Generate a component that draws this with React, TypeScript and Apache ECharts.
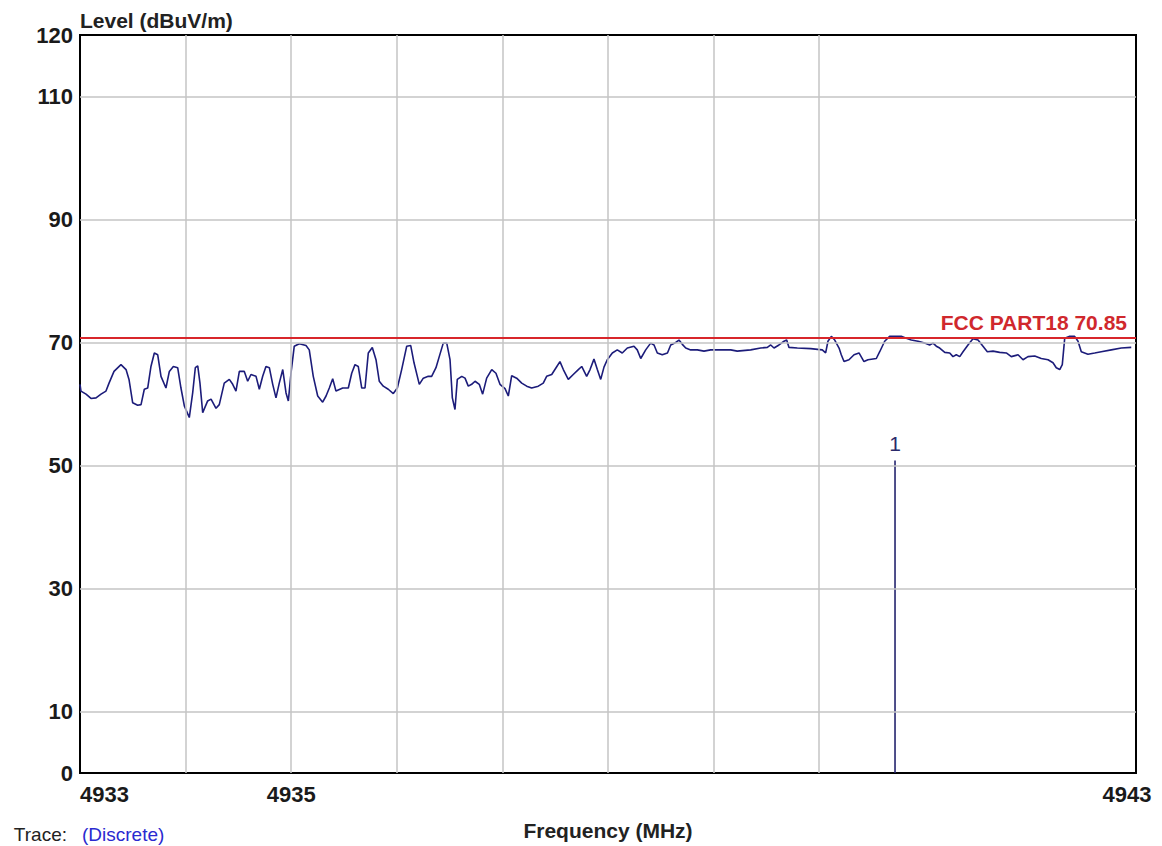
import React, { useEffect, useRef } from "react";
import * as echarts from "echarts";

// ---- data ----
const traceFreq = [
  4933.0, 4933.009, 4933.057, 4933.104, 4933.152, 4933.199, 4933.246, 4933.275, 4933.322, 4933.388,
  4933.436, 4933.464, 4933.499, 4933.546, 4933.578, 4933.609, 4933.641, 4933.672, 4933.704, 4933.736,
  4933.767, 4933.814, 4933.846, 4933.884, 4933.925, 4933.956, 4933.988, 4934.035, 4934.067, 4934.092,
  4934.115, 4934.136, 4934.162, 4934.209, 4934.241, 4934.288, 4934.319, 4934.366, 4934.414, 4934.446,
  4934.477, 4934.509, 4934.556, 4934.588, 4934.619, 4934.667, 4934.698, 4934.73, 4934.761, 4934.793,
  4934.825, 4934.856, 4934.887, 4934.92, 4934.951, 4934.973, 4934.998, 4935.029, 4935.077, 4935.14,
  4935.171, 4935.209, 4935.251, 4935.298, 4935.33, 4935.361, 4935.393, 4935.424, 4935.488,
  4935.541, 4935.573, 4935.604, 4935.635, 4935.668, 4935.699, 4935.73, 4935.768, 4935.803, 4935.834,
  4935.872, 4935.919, 4935.967, 4936.005, 4936.046, 4936.094, 4936.132, 4936.163, 4936.213, 4936.251,
  4936.298, 4936.33, 4936.371, 4936.402, 4936.44, 4936.473, 4936.504, 4936.526, 4936.551, 4936.573,
  4936.615, 4936.646, 4936.677, 4936.709, 4936.741, 4936.781, 4936.813, 4936.851, 4936.899, 4936.939,
  4936.977, 4937.025, 4937.056, 4937.088, 4937.135, 4937.183, 4937.23, 4937.277, 4937.34, 4937.387,
  4937.419, 4937.467, 4937.508, 4937.545, 4937.577, 4937.624, 4937.671, 4937.719, 4937.751, 4937.798,
  4937.83, 4937.867, 4937.899, 4937.931, 4937.962, 4937.993,
  4938.041, 4938.088, 4938.135, 4938.183, 4938.246, 4938.277, 4938.31, 4938.357, 4938.404, 4938.436,
  4938.467, 4938.514, 4938.563, 4938.594, 4938.641, 4938.672, 4938.704, 4938.736, 4938.783, 4938.846,
  4938.909, 4938.972, 4939.067, 4939.162, 4939.224, 4939.351, 4939.446, 4939.509, 4939.541, 4939.572,
  4939.619, 4939.667, 4939.692, 4939.714, 4939.793, 4939.919, 4940.029, 4940.061, 4940.083, 4940.115,
  4940.147, 4940.188, 4940.209, 4940.235, 4940.282, 4940.33, 4940.377, 4940.424,
  4940.462, 4940.541, 4940.573, 4940.62, 4940.667, 4940.715, 4940.777, 4940.825, 4940.872, 4940.936,
  4940.999, 4941.046, 4941.078, 4941.109, 4941.141, 4941.189, 4941.236, 4941.267, 4941.298, 4941.331,
  4941.362, 4941.409, 4941.456, 4941.504, 4941.551, 4941.592, 4941.646, 4941.709, 4941.772, 4941.819,
  4941.883, 4941.93, 4941.977, 4942.041, 4942.103, 4942.167, 4942.214, 4942.245, 4942.278, 4942.302,
  4942.325, 4942.372, 4942.419, 4942.451, 4942.482, 4942.545, 4942.609, 4942.671, 4942.766, 4942.861,
  4942.955,
];

const traceLevel = [
  63.2, 62.1, 61.6, 60.9, 61.0, 61.6, 62.1, 63.4, 65.3, 66.4,
  65.6, 64.0, 60.2, 59.8, 59.9, 62.4, 62.6, 66.1, 68.3, 68.0,
  64.5, 62.6, 65.3, 66.1, 65.9, 62.6, 59.7, 57.8, 61.8, 65.9,
  66.2, 63.4, 58.6, 60.5, 60.8, 59.3, 59.9, 63.4, 64.0, 63.2,
  62.1, 65.3, 65.3, 63.7, 64.8, 64.5, 62.4, 64.5, 66.1, 65.9,
  63.2, 61.0, 63.4, 65.6, 61.8, 60.5, 65.0, 69.4, 69.8, 69.5,
  68.8, 64.5, 61.3, 60.3, 61.3, 62.6, 64.1, 62.1, 62.6,
  62.6, 65.0, 66.4, 66.1, 62.6, 62.6, 68.3, 69.2, 67.2, 63.7,
  62.9, 62.4, 61.7, 62.6, 65.6, 69.4, 69.5, 66.7, 63.2, 64.2,
  64.5, 64.5, 65.9, 67.7, 69.9, 69.9, 67.2, 61.0, 59.1, 64.0,
  64.5, 64.2, 62.9, 63.2, 63.7, 63.2, 61.6, 64.2, 65.6, 65.0,
  63.2, 62.5, 61.3, 64.6, 64.2, 63.4, 62.9, 62.6, 62.9, 63.4,
  64.5, 64.8, 65.9, 66.9, 65.6, 64.0, 64.8, 65.6, 66.1, 64.5,
  65.6, 67.3, 65.6, 64.0, 66.0, 67.2,
  68.3, 68.8, 68.3, 69.1, 69.4, 68.8, 67.4, 68.8, 69.9, 69.6,
  68.3, 68.0, 68.3, 69.6, 70.0, 70.4, 69.7, 69.1, 68.8, 68.8,
  68.6, 68.8, 68.8, 68.8, 68.6, 68.8, 69.1, 69.2, 69.6, 69.1,
  69.6, 70.2, 70.4, 69.2, 69.1, 69.0, 68.8, 68.3, 70.2, 71.0,
  70.4, 69.1, 68.0, 66.9, 67.2, 68.0, 68.3, 66.9,
  67.2, 67.4, 68.5, 70.2, 71.0, 71.0, 71.0, 70.7, 70.4, 70.2,
  69.9, 69.6, 69.9, 69.4, 69.1, 68.4, 68.3, 67.7, 68.0, 67.7,
  68.5, 69.6, 70.6, 70.4, 69.4, 68.5, 68.6, 68.4, 68.3, 67.7,
  68.0, 67.2, 67.7, 67.8, 67.4, 67.2, 66.7, 65.9, 65.6, 66.4,
  70.7, 71.0, 71.0, 70.2, 68.5, 68.1, 68.3, 68.5, 68.8, 69.1,
  69.2,
];

const limitLevel = 70.85;
const limitLabel = "FCC PART18 70.85";

const markerFreq = 4940.718;
const markerLevel = 50.8;
const markerLabel = "1";

const xMin = 4933;
const xMax = 4943;
const xLabelValues = [4933, 4935, 4943];
const xGridFreqs = [4934, 4935, 4936, 4937, 4938, 4939, 4940];

const yMin = 0;
const yMax = 120;
const yLabelValues = [0, 10, 30, 50, 70, 90, 110, 120];
const yGridLevels = [10, 30, 50, 70, 90, 110];

const xAxisTitle = "Frequency (MHz)";
const yAxisTitle = "Level (dBuV/m)";
const traceCaption = "Trace:";
const traceMode = "(Discrete)";

const FONT = "'Liberation Sans', Arial, sans-serif";

export default function App() {
  const ref = useRef<HTMLDivElement>(null);

  useEffect(() => {
    if (!ref.current) return;
    const chart = echarts.init(ref.current, null, { renderer: "svg" });

    const traceData = traceFreq.map((f, i) => [f, traceLevel[i]]);

    const option = {
      animation: false,
      backgroundColor: "#ffffff",
      textStyle: { fontFamily: FONT },
      grid: {
        left: 80,
        top: 35,
        right: 26,
        bottom: 65,
        show: true,
        borderColor: "#000000",
        borderWidth: 2,
        backgroundColor: "transparent",
        containLabel: false,
      },
      xAxis: {
        type: "value",
        min: xMin,
        max: xMax,
        interval: 1,
        name: xAxisTitle,
        nameLocation: "middle",
        nameGap: 47,
        nameTextStyle: { fontFamily: FONT, fontSize: 21, fontWeight: "bold", color: "#222222" },
        axisLine: { show: false },
        axisTick: { show: false },
        splitLine: { show: false },
        axisLabel: {
          margin: 10,
          fontFamily: FONT,
          fontSize: 22,
          fontWeight: "bold",
          color: "#1a1a1a",
          alignMinLabel: "left",
          formatter: (v: number) => {
            const r = Math.round(v);
            if (!xLabelValues.includes(r)) return "";
            if (r === xMax) return "{r|" + r + "}";
            return String(r);
          },
          rich: {
            r: { padding: [0, 18, 0, 0], fontFamily: FONT, fontSize: 22, fontWeight: "bold", color: "#1a1a1a" },
          },
        },
      },
      yAxis: {
        type: "value",
        min: yMin,
        max: yMax,
        interval: 10,
        name: yAxisTitle,
        nameLocation: "end",
        nameGap: 4,
        nameTextStyle: {
          fontFamily: FONT,
          fontSize: 21,
          fontWeight: "bold",
          color: "#222222",
          align: "left",
          verticalAlign: "bottom",
        },
        axisLine: { show: false },
        axisTick: { show: false },
        splitLine: { show: false },
        axisLabel: {
          margin: 7,
          fontFamily: FONT,
          fontSize: 22,
          fontWeight: "bold",
          color: "#1a1a1a",
          formatter: (v: number) => {
            const r = Math.round(v);
            return yLabelValues.includes(r) ? String(r) : "";
          },
        },
      },
      graphic: [
        {
          type: "text",
          x: 67,
          y: 844,
          style: {
            text: traceCaption,
            textAlign: "right",
            textVerticalAlign: "bottom",
            font: "19px " + FONT,
            fill: "#222222",
          },
        },
        {
          type: "text",
          x: 82,
          y: 844,
          style: {
            text: traceMode,
            textAlign: "left",
            textVerticalAlign: "bottom",
            font: "19px " + FONT,
            fill: "#2a2ad0",
          },
        },
      ],
      series: [
        {
          name: "grid",
          type: "line",
          data: [],
          silent: true,
          z: 1,
          markLine: {
            silent: true,
            symbol: "none",
            animation: false,
            label: { show: false },
            lineStyle: { color: "#c4c4c4", width: 1.5, type: "solid" },
            data: [
              ...xGridFreqs.map((f) => ({ xAxis: f })),
              ...yGridLevels.map((v) => ({ yAxis: v })),
            ],
          },
        },
        {
          name: "limit",
          type: "line",
          data: [],
          silent: true,
          z: 2,
          markLine: {
            silent: true,
            symbol: "none",
            animation: false,
            lineStyle: { color: "#d8262b", width: 2, type: "solid" },
            label: {
              show: true,
              position: "insideEndTop",
              formatter: limitLabel,
              distance: [9, 4],
              fontFamily: FONT,
              fontSize: 21,
              fontWeight: "bold",
              color: "#d0282d",
            },
            data: [{ yAxis: limitLevel }],
          },
        },
        {
          name: "trace",
          type: "line",
          data: traceData,
          symbol: "none",
          z: 3,
          lineStyle: { color: "#1c1c7a", width: 1.6 },
        },
        {
          name: "marker",
          type: "line",
          symbol: "circle",
          symbolSize: 0,
          showSymbol: true,
          z: 4,
          lineStyle: { color: "#24246e", width: 1.6 },
          itemStyle: { color: "#24246e" },
          data: [
            [markerFreq, 0],
            {
              value: [markerFreq, markerLevel],
              label: {
                show: true,
                position: "top",
                distance: 7,
                formatter: markerLabel,
                fontFamily: FONT,
                fontSize: 21,
                color: "#2a2a6a",
              },
            },
          ],
        },
      ],
    };

    chart.setOption(option as any);
    return () => chart.dispose();
  }, []);

  return (
    <div
      ref={ref}
      style={{ position: "fixed", left: 0, top: 0, width: 1162, height: 846, background: "#fff" }}
    />
  );
}
